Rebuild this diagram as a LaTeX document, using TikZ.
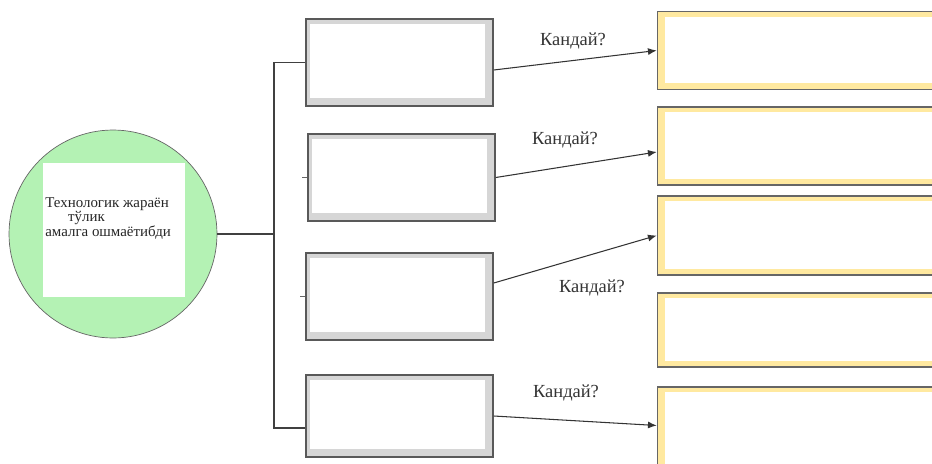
\documentclass[tikz,border=0pt]{standalone}
\usepackage{fontspec}
\setmainfont{Liberation Serif}
\usepackage{tikz}
\usetikzlibrary{arrows.meta}
\definecolor{palegreen}{RGB}{180,242,180}
\definecolor{palegold}{RGB}{255,233,160}
\definecolor{framegrey}{RGB}{214,214,214}
\tikzstyle{greybox} = [draw=black!65, line width=0.9pt, rectangle, fill=framegrey,
    minimum width=3.74cm, minimum height=1.75cm, inner sep=0pt,
    path picture={\fill[white] ([xshift=2.5pt,yshift=-3pt]path picture bounding box.north west)
        rectangle ([xshift=-4.5pt,yshift=4.5pt]path picture bounding box.south east);}]
\tikzstyle{goldbox} = [draw=black!60, line width=0.9pt, rectangle, fill=palegold,
    minimum width=5.7cm, minimum height=1.56cm, inner sep=0pt,
    path picture={\fill[white] ([xshift=4.5pt,yshift=-3pt]path picture bounding box.north west)
        rectangle ([xshift=-3pt,yshift=3.5pt]path picture bounding box.south east);}]
\tikzstyle{question} = [font=\fontsize{10.5}{12}\selectfont, text=black!80, inner sep=1pt]
\tikzstyle{link} = [-{Latex[length=5pt,width=4pt]}, black!80, line width=0.6pt]

\begin{document}
\begin{tikzpicture}[x=0.02cm, y=-0.02cm]
                \useasboundingbox (0,0) rectangle (932,463);
                % problem circle
                \node [circle, draw=black!60, fill=palegreen, minimum size=4.16cm, inner sep=0pt] (problem) at (113,234) {};
                \node [fill=white, minimum width=2.84cm, minimum height=2.68cm, inner sep=0pt] (card) at (114,230) {};
                \node [anchor=north west, align=left, inner sep=0pt, text=black!85,
                    font=\fontsize{8.5}{8.4}\selectfont] (title) at (45,197)
                    {Технологик жараён\\ \hspace*{13pt}тўлик\\ амалга ошмаётибди};
                % causes
                \node [greybox] (cause1) at (399.5,62.5) {};
                \node [greybox] (cause2) at (401.5,177.5) {};
                \node [greybox, minimum height=1.74cm] (cause3) at (399.5,296.5) {};
                \node [greybox, minimum height=1.64cm] (cause4) at (399.5,416) {};
                % answers
                \node [goldbox] (answer1) at (800,50.5) {};
                \node [goldbox] (answer2) at (800,146) {};
                \node [goldbox, minimum height=1.58cm] (answer3) at (800,235.5) {};
                \node [goldbox, minimum height=1.48cm] (answer4) at (800,330) {};
                \node [goldbox, minimum height=1.68cm] (answer5) at (800,429) {};
                % bracket
                \coordinate (top) at (274,62.5);
                \coordinate (bottom) at (274,428);
                \draw [black!75, line width=0.6pt] (top -| cause1.west) -- (top) -- (bottom) -- (bottom -| cause4.west);
                \draw [black!75, line width=0.6pt] (problem.east) -- (problem.east -| top);
                \draw [black!60, line width=0.5pt] ([xshift=-0.1cm]cause2.west) -- (cause2.west);
                \draw [black!60, line width=0.5pt] ([xshift=-0.1cm]cause3.west) -- (cause3.west);
                % questions
                \draw [link] ([yshift=-0.15cm]cause1.east) -- (answer1.west);
                \draw [link] (cause2.east) -- ([yshift=-0.12cm]answer2.west);
                \draw [link] ([yshift=0.27cm]cause3.east) -- (answer3.west);
                \draw [link] (cause4.east) -- ([yshift=0.07cm]answer5.west);
                \node [question] (ask1) at (573,41) {Кандай?};
                \node [question] (ask2) at (565,140) {Кандай?};
                \node [question] (ask3) at (592,288) {Кандай?};
                \node [question] (ask4) at (566,393) {Кандай?};
            \end{tikzpicture}
\end{document}
